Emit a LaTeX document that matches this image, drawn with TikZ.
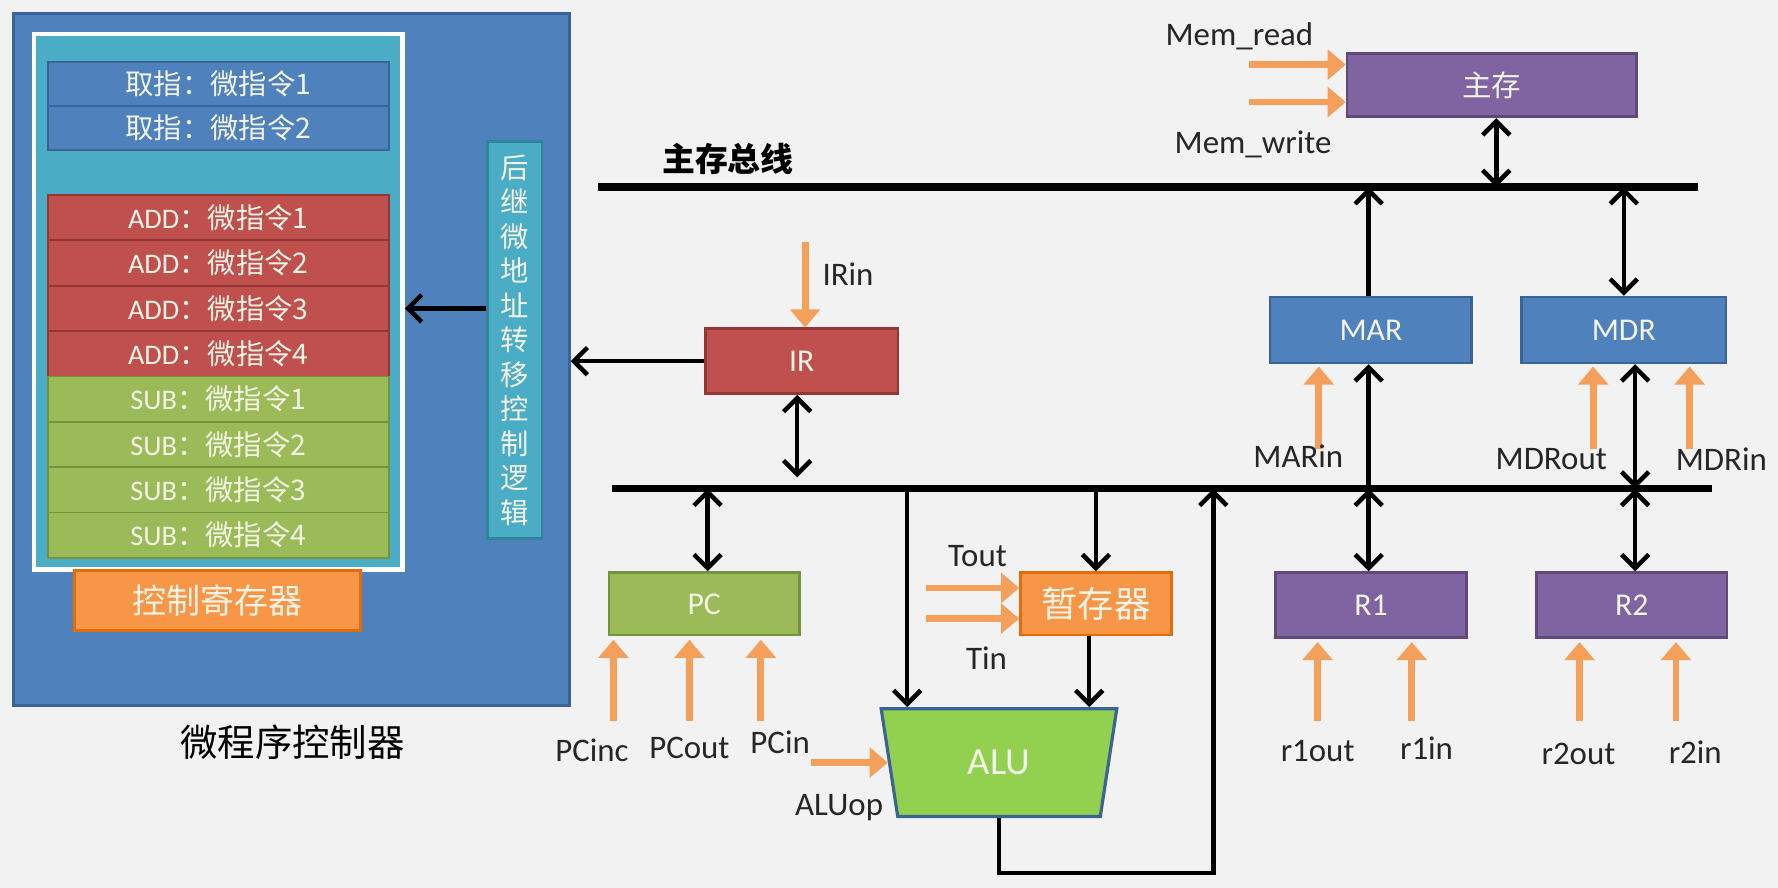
\documentclass[tikz,border=0pt]{standalone}
\usepackage{fontspec}
\setmainfont{Carlito}
\newfontfamily\cjk{Noto Sans CJK SC}
\usetikzlibrary{arrows.meta,calc,shapes.geometric}
\definecolor{bg}{HTML}{F2F2F2}
\definecolor{cblue}{HTML}{4F81BD}
\definecolor{cblueD}{HTML}{3A6495}
\definecolor{ccyan}{HTML}{4BACC6}
\definecolor{ccyanD}{HTML}{31849B}
\definecolor{cred}{HTML}{C0504D}
\definecolor{credD}{HTML}{943634}
\definecolor{cgreen}{HTML}{9BBB59}
\definecolor{cgreenD}{HTML}{76923C}
\definecolor{cpurple}{HTML}{8064A2}
\definecolor{cpurpleD}{HTML}{5F497A}
\definecolor{corange}{HTML}{F79646}
\definecolor{corangeD}{HTML}{E36C09}
\definecolor{carrow}{HTML}{F5A05A}
\definecolor{calu}{HTML}{92D050}
\definecolor{txtw}{HTML}{F4F4E6}
\tikzset{
  urow/.style 2 args={draw=#2, fill=#1, line width=0.8pt, minimum width=150.5pt,
    minimum height=20pt, inner sep=0, text=txtw, font=\fontsize{12.5}{14}\selectfont},
  regbox/.style 2 args={draw=#2, fill=#1, line width=1.2pt, inner sep=0, text=txtw,
    font=\fontsize{14}{16}\selectfont},
  lbl/.style={text=black!85, font=\fontsize{14.5}{16}\selectfont, inner sep=1pt},
  bhead/.style={Straight Barb[length=6pt,width=12pt,line width=2pt]},
  barrow/.style={draw=black, line width=2pt, -{Straight Barb[length=6pt,width=12pt,line width=2pt]}},
  dbarrow/.style={draw=black, line width=2pt, {Straight Barb[length=6pt,width=12pt,line width=2pt]}-{Straight Barb[length=6pt,width=12pt,line width=2pt]}},
  oarrow/.style={draw=carrow, line width=3pt, -{Triangle[length=8pt,width=13pt]}},
  bus/.style={draw=black, line width=3.2pt},
}
\begin{document}
\begin{tikzpicture}[x=0.5pt,y=-0.5pt]
\fill[bg] (0,0) rectangle (1568,783);
\useasboundingbox (0,0) rectangle (1568,783);

% ---------- micro-program controller ----------
\node[draw=cblueD, fill=cblue, line width=1.2pt, minimum width=245pt, minimum height=305pt, inner sep=0] (mpc) at (257,317) {};
\node[draw=white, fill=ccyan, line width=2pt, minimum width=162.5pt, minimum height=236pt, inner sep=0] (cs) at (192.5,266) {};
\node[urow={cblue}{cblueD}, minimum height=19.25pt] (f1) at (192.5,74) {{\cjk 取指：微指令1}};
\node[urow={cblue}{cblueD}, minimum height=19.25pt] (f2) at (192.5,113) {{\cjk 取指：微指令2}};
\node[urow={cred}{credD}] (add1) at (192.5,192) {ADD{\cjk ：微指令1}};
\node[urow={cred}{credD}] (add2) at (192.5,232) {ADD{\cjk ：微指令2}};
\node[urow={cred}{credD}] (add3) at (192.5,272) {ADD{\cjk ：微指令3}};
\node[urow={cred}{credD}] (add4) at (192.5,312) {ADD{\cjk ：微指令4}};
\node[urow={cgreen}{cgreenD}] (sub1) at (192.5,352) {SUB{\cjk ：微指令1}};
\node[urow={cgreen}{cgreenD}] (sub2) at (192.5,392) {SUB{\cjk ：微指令2}};
\node[urow={cgreen}{cgreenD}] (sub3) at (192.5,432) {SUB{\cjk ：微指令3}};
\node[urow={cgreen}{cgreenD}] (sub4) at (192.5,472) {SUB{\cjk ：微指令4}};
\node[regbox={corange}{corangeD}, minimum width=126pt, minimum height=26.5pt, font=\cjk\fontsize{15}{17}\selectfont] (creg) at (192,529.5) {控制寄存器};
\node[regbox={ccyan}{ccyanD}, minimum width=24pt, minimum height=175pt, align=center,
  font=\cjk\fontsize{12.5}{15.2}\selectfont] (hj) at (454,300) {后\\继\\微\\地\\址\\转\\移\\控\\制\\逻\\辑};
\draw[barrow] (hj.west |- add3) -- (cs.east |- add3);
\node[font=\cjk\fontsize{16.5}{18}\selectfont, text=black] (mpclbl) at (258,655) {微程序控制器};

% ---------- buses ----------
\coordinate (mb1) at (527,165);
\coordinate (mb2) at (1497,165);
\coordinate (cb1) at (540,431);
\coordinate (cb2) at (1510,431);
\draw[bus] (mb1) -- (mb2);
\draw[bus] (cb1) -- (cb2);
\node[font=\cjk\bfseries\fontsize{14.5}{16}\selectfont, text=black] (mblbl) at (642,140) {主存总线};

% ---------- main memory ----------
\node[regbox={cpurple}{cpurpleD}, minimum width=127.5pt, minimum height=28pt, font=\cjk\fontsize{13}{15}\selectfont] (mm) at (1315.5,75) {主存};
\draw[dbarrow] ([xshift=2pt]mm.south) -- ([xshift=2pt]mm.south |- mb1);
\draw[oarrow] ($(mm.west)+(-85,-18)$) -- ($(mm.west)+(0,-18)$);
\draw[oarrow] ($(mm.west)+(-85,15)$) -- ($(mm.west)+(0,15)$);
\node[lbl] (mrd) at (1093,32) {Mem\_read};
\node[lbl] (mwr) at (1105,127) {Mem\_write};

% ---------- IR ----------
\node[regbox={cred}{credD}, minimum width=85pt, minimum height=28.5pt] (ir) at (707,318.5) {IR};
\draw[barrow] (ir.west) -- (mpc.east |- ir.west);
\draw[oarrow] ($(ir.north)+(3,-75)$) -- ($(ir.north)+(3,0)$);
\node[lbl, anchor=west] (irin) at (723,242) {IRin};
\draw[dbarrow, shorten >=5pt] ([xshift=-2pt]ir.south) -- ([xshift=-2pt]ir.south |- cb1);

% ---------- MAR / MDR ----------
\node[regbox={cblue}{cblueD}, minimum width=89pt, minimum height=29pt] (mar) at (1209,291) {MAR};
\draw[barrow] ([xshift=-1pt]mar.north) -- ([xshift=-1pt]mar.north |- mb1);
\draw[barrow] ([xshift=-1pt]mar.south |- cb1) -- ([xshift=-1pt]mar.south);
\draw[oarrow] ($(mar.south)+(-46,75)$) -- ($(mar.south)+(-46,2)$);
\node[lbl] (marin) at (1145,402) {MARin};

\node[regbox={cblue}{cblueD}, minimum width=90pt, minimum height=29pt] (mdr) at (1432,291) {MDR};
\draw[dbarrow] (mdr.north) -- (mdr.north |- mb1);
\draw[dbarrow] ([xshift=5pt]mdr.south) -- ([xshift=5pt]mdr.south |- cb1);
\draw[oarrow] ($(mdr.south)+(-27,75)$) -- ($(mdr.south)+(-27,2)$);
\draw[oarrow] ($(mdr.south)+(58,75)$) -- ($(mdr.south)+(58,2)$);
\node[lbl] (mdrout) at (1368,405) {MDRout};
\node[lbl] (mdrin) at (1518,405) {MDRin};

% ---------- PC ----------
\node[regbox={cgreen}{cgreenD}, minimum width=84pt, minimum height=27.5pt] (pc) at (621,532.5) {PC};
\draw[dbarrow] ([xshift=1.5pt]pc.north |- cb1) -- ([xshift=1.5pt]pc.north);
\draw[oarrow] ($(pc.south)+(-80,75)$) -- ($(pc.south)+(-80,3)$);
\draw[oarrow] ($(pc.south)+(-13,75)$) -- ($(pc.south)+(-13,3)$);
\draw[oarrow] ($(pc.south)+(50,75)$) -- ($(pc.south)+(50,3)$);
\node[lbl] (pcinc) at (522,662) {PCinc};
\node[lbl] (pcout) at (608,660) {PCout};
\node[lbl] (pcin) at (688,655) {PCin};

% ---------- temp register ----------
\node[regbox={corange}{corangeD}, minimum width=66.5pt, minimum height=27.5pt, font=\cjk\fontsize{16}{18}\selectfont] (tr) at (966.5,532.5) {暂存器};
\draw[barrow] (tr.north |- cb1) -- (tr.north);
\draw[oarrow] ($(tr.west)+(-82,-14)$) -- ($(tr.west)+(0,-14)$);
\draw[oarrow] ($(tr.west)+(-82,13)$) -- ($(tr.west)+(0,13)$);
\node[lbl] (tout) at (862,490) {Tout};
\node[lbl] (tin) at (870,580) {Tin};

% ---------- ALU ----------
\node[trapezium, trapezium left angle=101.5, trapezium right angle=101.5, trapezium stretches=true,
  draw=cblueD, fill=calu, line width=1.4pt, minimum width=104pt, minimum height=47.5pt, inner sep=0,
  text=txtw, font=\fontsize{17}{19}\selectfont] (alu) at (881,672.5) {ALU};
\coordinate (alua) at ([xshift=-40.5pt]alu.north);
\coordinate (alub) at ([xshift=-3pt]tr.south);
\draw[barrow] (alua |- cb1) -- (alua);
\draw[barrow] (alub) -- (alub |- alu.north);
\draw[oarrow] ([xshift=-34pt]alu.west) -- (alu.west);
\node[lbl] (aluop) at (740,712) {ALUop};
\coordinate (ret) at (1070,770);
\draw[barrow] (alu.south) |- (ret) -- (ret |- cb1);

% ---------- R1 / R2 ----------
\node[regbox={cpurple}{cpurpleD}, minimum width=84pt, minimum height=28.5pt] (r1) at (1209,533.5) {R1};
\draw[dbarrow] ([xshift=-1pt]r1.north |- cb1) -- ([xshift=-1pt]r1.north);
\draw[oarrow] ($(r1.south)+(-47,73)$) -- ($(r1.south)+(-47,3)$);
\draw[oarrow] ($(r1.south)+(36,73)$) -- ($(r1.south)+(36,3)$);
\node[lbl] (r1out) at (1162,662) {r1out};
\node[lbl] (r1in) at (1258,660) {r1in};

\node[regbox={cpurple}{cpurpleD}, minimum width=84pt, minimum height=28.5pt] (r2) at (1439,533.5) {R2};
\draw[dbarrow] ([xshift=1.5pt]r2.north |- cb1) -- ([xshift=1.5pt]r2.north);
\draw[oarrow] ($(r2.south)+(-46,73)$) -- ($(r2.south)+(-46,3)$);
\draw[oarrow] ($(r2.south)+(39,73)$) -- ($(r2.south)+(39,3)$);
\node[lbl] (r2out) at (1392,665) {r2out};
\node[lbl] (r2in) at (1495,663) {r2in};
\end{tikzpicture}
\end{document}
